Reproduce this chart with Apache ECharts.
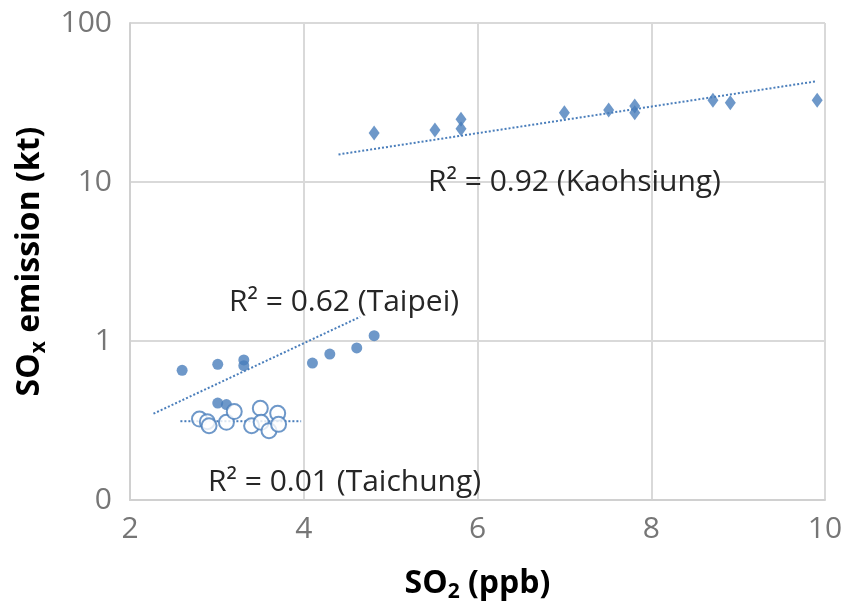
<!DOCTYPE html>
<html>
<head>
<meta charset="utf-8">
<script src="https://cdn.jsdelivr.net/npm/echarts@6/dist/echarts.min.js"></script>
<style>
  html, body { margin: 0; padding: 0; background: #fff; }
  #chart { width: 841px; height: 607px; }
</style>
</head>
<body>
<div id="chart"></div>
<script>
// Kaohsiung (diamonds)
const kaoX = [4.81, 5.51, 5.81, 5.81, 7.0, 7.51, 7.81, 7.81, 8.71, 8.91, 9.91]
const kaoY = [20.3, 21.2, 24.8, 21.6, 27.3, 28.4, 30.1, 27.3, 32.7, 31.5, 32.7]
const kaoTrendX = [4.4, 9.89]
const kaoTrendY = [14.9, 42.9]

// Taipei (filled circles)
const tpeX = [2.60, 3.01, 3.31, 3.31, 4.10, 4.30, 4.61, 4.81, 3.01, 3.11]
const tpeY = [0.654, 0.713, 0.76, 0.70, 0.727, 0.828, 0.904, 1.08, 0.407, 0.398]
const tpeTrendX = [2.27, 4.65]
const tpeTrendY = [0.349, 1.42]

// Taichung (open circles)
const tcX = [2.80, 2.89, 2.91, 3.11, 3.20, 3.40, 3.50, 3.51, 3.60, 3.70, 3.71]
const tcY = [0.323, 0.311, 0.293, 0.308, 0.36, 0.293, 0.377, 0.308, 0.273, 0.351, 0.299]
const tcTrendX = [2.58, 3.97]
const tcTrendY = [0.313, 0.313]

const blue = '#4a7ebb'
const zip = (xs, ys) => xs.map((x, i) => [x, ys[i]])

const chart = echarts.init(document.getElementById('chart'))

function trend(xs, ys) {
  return {
    type: 'line',
    data: zip(xs, ys),
    symbol: 'none',
    lineStyle: { color: blue, width: 2, type: [2, 2] },
    z: 1
  }
}

function r2label(x, y, val, city) {
  return {
    type: 'text',
    x: x,
    y: y,
    z: 10,
    style: {
      text: 'R\u00b2 = ' + val + ' (' + city + ')',
      font: '30px "Open Sans"',
      fill: '#262626',
      textVerticalAlign: 'middle'
    }
  }
}

const nameRich = {
  b: { fontFamily: 'Open Sans', fontWeight: 'bold', fontSize: 32, color: '#000' },
  sub: { fontFamily: 'Open Sans', fontWeight: 'bold', fontSize: 21, color: '#000', padding: [18, 0, 0, 0] }
}

chart.setOption({
  animation: false,
  grid: { left: 130, right: 16, top: 23, bottom: 107, outerBoundsMode: 'none' },
  xAxis: {
    type: 'value',
    min: 2, max: 10, interval: 2,
    name: '{b|SO}{sub|2}{b| (ppb)}',
    nameLocation: 'middle',
    nameGap: 64,
    nameTextStyle: { rich: nameRich },
    axisLine: { show: true, lineStyle: { color: '#d0d0d0', width: 2 } },
    axisTick: { show: false },
    axisLabel: { fontFamily: 'Open Sans', fontSize: 30, color: '#767676', margin: 14 },
    splitLine: { show: true, lineStyle: { color: '#d9d9d9', width: 2 } }
  },
  yAxis: {
    type: 'log',
    logBase: 10,
    min: 0.1, max: 100,
    name: '{b|SO}{sub|x}{b| emission (kt)}',
    nameLocation: 'middle',
    nameGap: 70,
    nameRotate: 90,
    nameTextStyle: { rich: nameRich },
    axisLine: { show: true, lineStyle: { color: '#d0d0d0', width: 2 } },
    axisTick: { show: false },
    axisLabel: {
      fontFamily: 'Open Sans', fontSize: 30, color: '#767676', margin: 18,
      formatter: v => (v < 1 ? '0' : String(Math.round(v)))
    },
    splitLine: { show: true, lineStyle: { color: '#d9d9d9', width: 2 } }
  },
  series: [
    trend(kaoTrendX, kaoTrendY),
    trend(tpeTrendX, tpeTrendY),
    trend(tcTrendX, tcTrendY),
    {
      type: 'scatter',
      data: zip(kaoX, kaoY),
      symbol: 'diamond',
      symbolSize: [11, 15],
      itemStyle: { color: blue },
      z: 3
    },
    {
      type: 'scatter',
      data: zip(tpeX, tpeY),
      symbol: 'circle',
      symbolSize: 11,
      itemStyle: { color: blue },
      z: 3
    },
    {
      type: 'scatter',
      data: zip(tcX, tcY),
      symbol: 'circle',
      symbolSize: 15,
      itemStyle: { color: '#fff', borderColor: blue, borderWidth: 2 },
      z: 3
    }
  ],
  graphic: [
    r2label(428, 182, '0.92', 'Kaohsiung'),
    r2label(229, 302, '0.62', 'Taipei'),
    r2label(208, 482, '0.01', 'Taichung')
  ]
})
</script>
</body>
</html>
